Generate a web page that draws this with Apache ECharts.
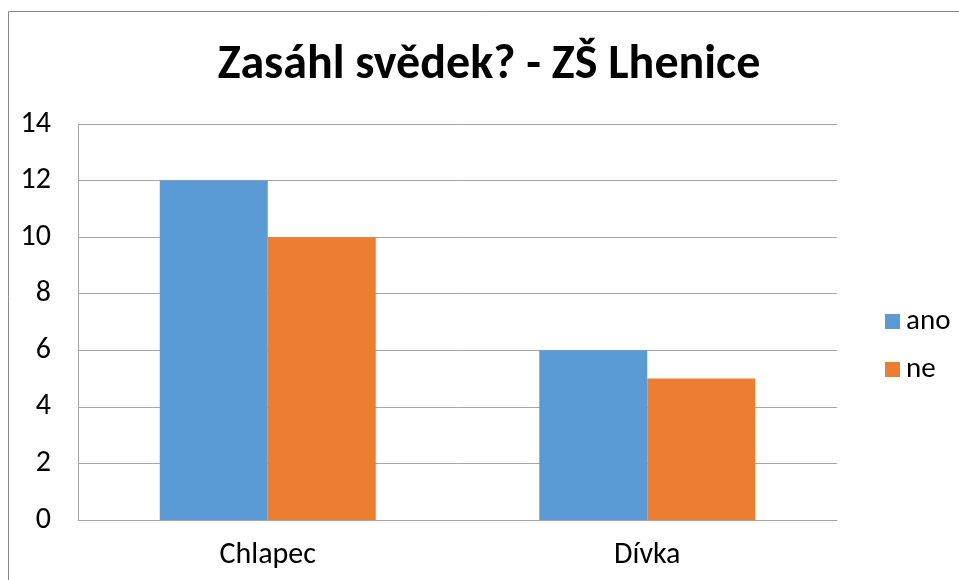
<!DOCTYPE html>
<html><head><meta charset="utf-8">
<script src="https://cdn.jsdelivr.net/npm/echarts@6/dist/echarts.min.js"></script>
<style>html,body{margin:0;padding:0;background:#fff}#c{width:959px;height:580px}</style>
</head><body><div id="c"></div>
<script>
var categories = ['Chlapec', 'Dívka'];
var seriesNames = ['ano', 'ne'];
var anoValues = [12, 6];
var neValues = [10, 5];
var titleText = 'Zasáhl svědek? - ZŠ Lhenice';
var FONT = 'Carlito, Lato, sans-serif';
var chart = echarts.init(document.getElementById('c'), null, {renderer: 'canvas'});
chart.setOption({
  animation: false,
  backgroundColor: '#fff',
  color: ['#5B9BD5', '#ED7D31'],
  title: {
    text: titleText, left: 484, textAlign: 'center', top: 37,
    textStyle: {fontFamily: FONT, fontSize: 48, fontWeight: 'bold', color: '#000'}
  },
  legend: {
    orient: 'vertical', left: 880, top: 302, itemWidth: 15, itemHeight: 15, itemGap: 19,
    icon: 'rect', data: seriesNames,
    textStyle: {fontFamily: FONT, fontSize: 29, color: '#000', padding: [0,0,0,1]}
  },
  graphic: [{type: 'rect', shape: {x: 8.5, y: 11.5, width: 1000, height: 1000}, style: {fill: 'none', stroke: '#888', lineWidth: 1}, silent: true}],
  grid: {left: 78, right: 122, top: 124, bottom: 60, containLabel: false},
  xAxis: {
    type: 'category', data: categories,
    axisLine: {show: true, lineStyle: {color: '#A6A6A6', width: 1}},
    axisTick: {show: false},
    axisLabel: {fontFamily: FONT, fontSize: 30, color: '#000', margin: 20}
  },
  yAxis: {
    type: 'value', min: 0, max: 14, interval: 2,
    axisLine: {show: true, lineStyle: {color: '#A6A6A6', width: 1}},
    axisTick: {show: false},
    splitLine: {lineStyle: {color: '#A6A6A6', width: 1}},
    axisLabel: {fontFamily: FONT, fontSize: 30, color: '#000', margin: 27}
  },
  series: [
    {name: seriesNames[0], type: 'bar', data: anoValues, barWidth: 108, barGap: '0%'},
    {name: seriesNames[1], type: 'bar', data: neValues, barWidth: 108, barGap: '0%'}
  ]
});
</script></body></html>
